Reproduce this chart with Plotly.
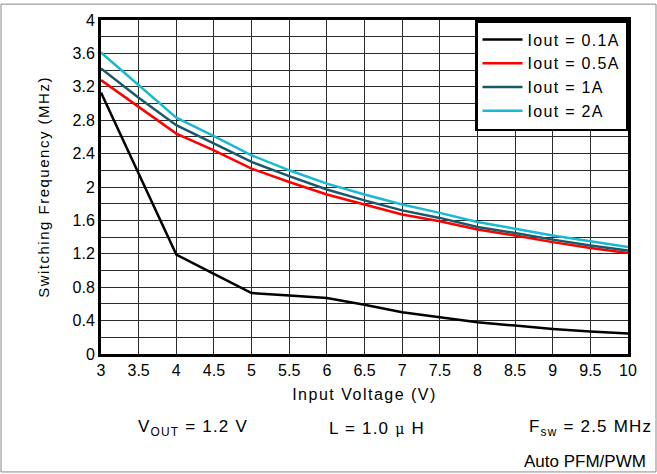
import plotly.graph_objects as go

vin = [3, 3.5, 4, 4.5, 5, 5.5, 6, 6.5, 7, 7.5, 8, 8.5, 9, 9.5, 10]
f_01A = [3.13, 2.16, 1.19, 0.96, 0.73, 0.70, 0.67, 0.59, 0.50, 0.44, 0.38, 0.34, 0.30, 0.27, 0.245]
f_05A = [3.28, 2.96, 2.64, 2.44, 2.22, 2.06, 1.91, 1.79, 1.67, 1.59, 1.49, 1.42, 1.34, 1.27, 1.21]
f_1A = [3.42, 3.07, 2.74, 2.52, 2.30, 2.13, 1.97, 1.84, 1.72, 1.63, 1.52, 1.45, 1.37, 1.30, 1.24]
f_2A = [3.61, 3.22, 2.83, 2.61, 2.38, 2.20, 2.04, 1.91, 1.79, 1.69, 1.58, 1.50, 1.42, 1.35, 1.28]
series_names = ["Iout = 0.1A", "Iout = 0.5A", "Iout = 1A", "Iout = 2A"]
series_colors = ["#000000", "#ff0000", "#195a6a", "#19b9d0"]

x_ticks = [3, 3.5, 4, 4.5, 5, 5.5, 6, 6.5, 7, 7.5, 8, 8.5, 9, 9.5, 10]
x_tick_labels = ["3", "3.5", "4", "4.5", "5", "5.5", "6", "6.5", "7", "7.5", "8", "8.5", "9", "9.5", "10"]
y_ticks = [0, 0.4, 0.8, 1.2, 1.6, 2, 2.4, 2.8, 3.2, 3.6, 4]
y_tick_labels = ["0", "0.4", "0.8", "1.2", "1.6", "2", "2.4", "2.8", "3.2", "3.6", "4"]

W, H = 657, 474
L, R, T, B = 101, 29, 17, 120
pw, ph = W - L - R, H - T - B

font = "Liberation Sans, Arial, sans-serif"


def spaced(text, ls):
    return f"<span style='letter-spacing:{ls}px'>{text}</span>"


fig = go.Figure()
for name, ys, c in zip(series_names, [f_01A, f_05A, f_1A, f_2A], series_colors):
    fig.add_trace(go.Scatter(x=vin, y=ys, mode="lines", name=spaced(name, 1.3),
                             line=dict(color=c, width=2.5)))

fig.update_layout(
    width=W, height=H,
    margin=dict(l=L, r=R, t=T, b=B),
    paper_bgcolor="white", plot_bgcolor="white",
    font=dict(family=font, size=16, color="black"),
    showlegend=True,
    legend=dict(x=1, xanchor="right", y=1, yanchor="top",
                bgcolor="white", bordercolor="black", borderwidth=2.5,
                font=dict(size=16), tracegroupgap=0, itemwidth=40),
    xaxis=dict(range=[3, 10], tickvals=x_ticks, ticktext=x_tick_labels,
               showgrid=True, gridcolor="#2a2a2a", gridwidth=1,
               showline=True, linecolor="black", linewidth=3, mirror=True,
               ticks="", zeroline=False,
               title=dict(text=spaced("Input Voltage (V)", 1.5), font=dict(size=16), standoff=11),
               tickfont=dict(size=16)),
    yaxis=dict(range=[0, 4], tickvals=y_ticks, ticktext=y_tick_labels,
               showgrid=True, gridcolor="#2a2a2a", gridwidth=1,
               minor=dict(dtick=0.2, showgrid=True, gridcolor="#2a2a2a", gridwidth=1),
               showline=True, linecolor="black", linewidth=3, mirror=True,
               ticks="", zeroline=False,
               title=dict(text=spaced("Switching Frequency (MHz)", 1.5), font=dict(size=15), standoff=20),
               tickfont=dict(size=16)),
)

def px_x(p):
    return (p - L) / pw

def px_y(p):
    return 1 - (p - T) / ph

# outer frame
fig.add_shape(type="rect", xref="paper", yref="paper",
              x0=px_x(1), x1=px_x(W - 1), y0=px_y(H - 1), y1=px_y(1),
              line=dict(color="#888888", width=1), layer="below")

ann_font = dict(family=font, size=17, color="black")
fig.add_annotation(xref="paper", yref="paper", x=px_x(193), y=px_y(429),
                   text=spaced("V<sub>OUT</sub> = 1.2 V", 1.2), showarrow=False, font=ann_font,
                   xanchor="center", yanchor="middle")
fig.add_annotation(xref="paper", yref="paper", x=px_x(377), y=px_y(429),
                   text=spaced("L = 1.0 <span style='font-family:DejaVu Serif;font-size:14px'>μ</span> H", 1.2),
                   showarrow=False, font=ann_font, xanchor="center", yanchor="middle")
fig.add_annotation(xref="paper", yref="paper", x=px_x(654), y=px_y(429),
                   text=spaced("F<sub>sw</sub> = 2.5 MHz", 1.2), showarrow=False, font=ann_font,
                   xanchor="right", yanchor="middle")
fig.add_annotation(xref="paper", yref="paper", x=px_x(648), y=px_y(462),
                   text="Auto PFM/PWM", showarrow=False, font=ann_font,
                   xanchor="right", yanchor="middle")

fig.write_html("out.html", config={"displayModeBar": False},
               post_script="document.body.style.margin='0';")
